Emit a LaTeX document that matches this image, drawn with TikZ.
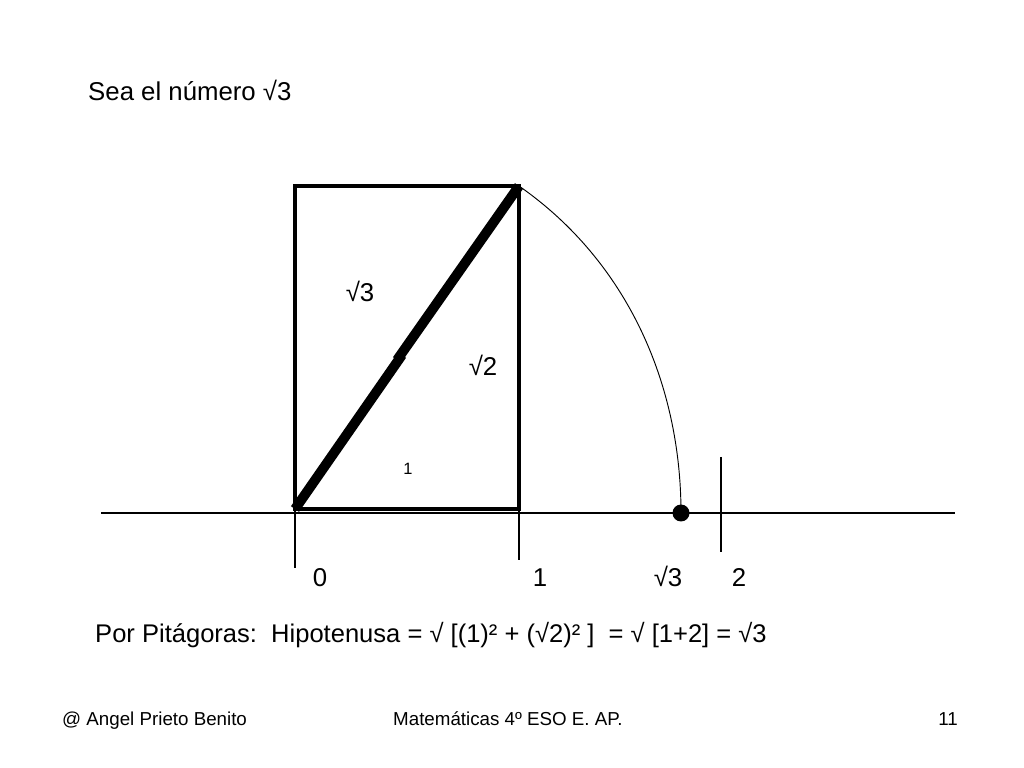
\documentclass[tikz,border=0pt]{standalone}
\usepackage{fontspec}
\setmainfont{Liberation Sans}
\usetikzlibrary{positioning}

\begin{document}
\begin{tikzpicture}[
  x=0.03cm, y=-0.03cm,
  frame/.style={line width=3.6pt, line join=miter},
  hypo/.style={line width=8.4pt},
  axisline/.style={line width=1.2pt},
  arcline/.style={line width=0.8pt},
  txt/.style={font=\fontsize{22}{26}\selectfont, inner sep=0pt, anchor=base},
  smalltxt/.style={font=\fontsize{14}{17}\selectfont, inner sep=0pt, anchor=base},
  foot/.style={font=\fontsize{16}{19}\selectfont, inner sep=0pt}
]
  \useasboundingbox (0,0) rectangle (1024,768);

  % points of the construction
  \coordinate (O) at (295,509);
  \coordinate (A) at (519,509);
  \coordinate (B) at (519,186);
  \coordinate (C) at (295,186);
  \coordinate (mid1) at (402,355);
  \coordinate (mid2) at (397,360);
  \coordinate (root3) at (681,513);
  \coordinate (ax0) at (101,513);
  \coordinate (ax1) at (955,513);

  % number line and ticks
  \draw[axisline] (ax0) -- (ax1);
  \draw[axisline] (295,505) -- (295,568);
  \draw[axisline] (519,509) -- (519,560);
  \draw[axisline] (721,457) -- (721,552);

  % rectangle and hypotenuse
  \draw[frame] (C) rectangle (A);
  \draw[hypo] (O) -- (mid1);
  \draw[hypo] (mid2) -- (B);

  % arc down to the number line
  \draw[arcline] (B) .. controls (628,262) and (681,385) .. (root3);
  \fill (root3) circle[radius=8.5];

  % labels
  \node[txt, anchor=base west] (title) at (88,101) {Sea el número √3};
  \node[txt] (lhyp) at (360,302) {√3};
  \node[txt] (lside) at (483,376) {√2};
  \node[smalltxt] (lone) at (408,475) {1};
  \node[txt] (n0) at (320,586) {0};
  \node[txt] (n1) at (540,586) {1};
  \node[txt] (nr3) at (668,586) {√3};
  \node[txt] (n2) at (739,586) {2};
  \node[txt, anchor=base west, font=\fontsize{21.8}{26}\selectfont] (pitag) at (95,642)
    {Por Pitágoras:\ \ Hipotenusa = √ [(1)² + (√2)² ]\ \ = √ [1+2] = √3};

  % footer
  \node[foot, anchor=base west] (author) at (62,725) {@ Angel Prieto Benito};
  \node[foot, anchor=base west] (course) at (393,725) {Matemáticas 4º ESO E. AP.};
  \node[foot, anchor=base east] (page) at (958,725) {11};
\end{tikzpicture}
\end{document}
